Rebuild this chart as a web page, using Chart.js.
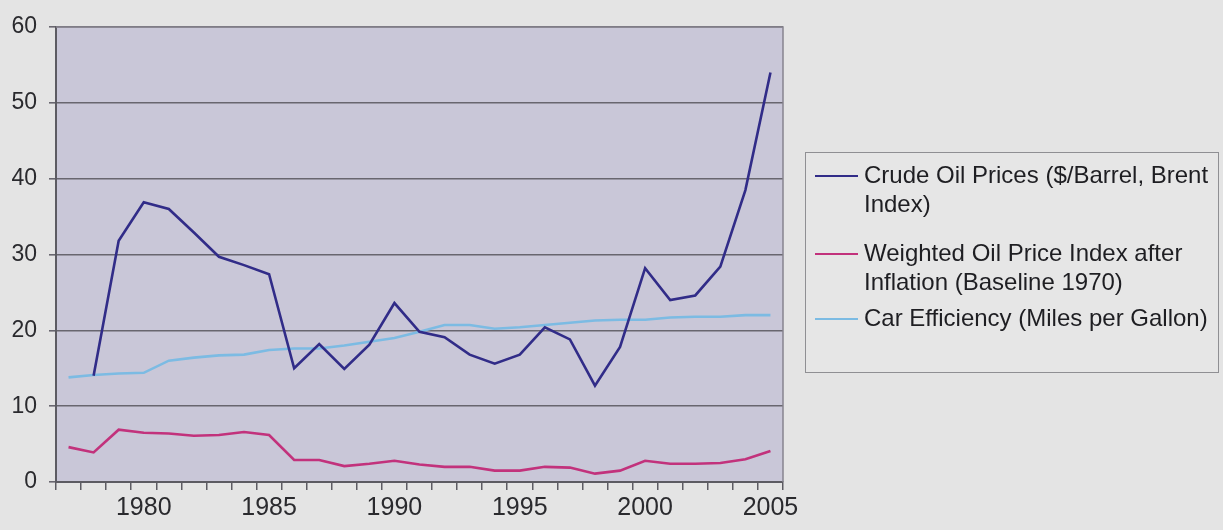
<!DOCTYPE html>
<html>
<head>
<meta charset="utf-8">
<title>Oil prices and car efficiency</title>
<script src="https://cdn.jsdelivr.net/npm/chart.js@4.4.0/dist/chart.umd.min.js"></script>
<style>
  html, body { margin: 0; padding: 0; background: #e4e4e4; }
  #wrap { position: relative; width: 1223px; height: 530px; }
</style>
</head>
<body>
<div id="wrap"><canvas id="oilChart" width="1223" height="530"></canvas></div>
<script>
// ---------------------------------------------------
// data
var years = ['1977','1978','1979','1980','1981','1982','1983','1984','1985','1986',
             '1987','1988','1989','1990','1991','1992','1993','1994','1995','1996',
             '1997','1998','1999','2000','2001','2002','2003','2004','2005'];

var crudeOil = [null, 14.0, 31.8, 36.9, 36.0, 32.9, 29.7, 28.6, 27.4, 15.0,
                18.2, 14.9, 18.1, 23.6, 19.8, 19.1, 16.8, 15.6, 16.8, 20.4,
                18.8, 12.7, 17.8, 28.2, 24.0, 24.6, 28.4, 38.5, 54.0];

var weightedIndex = [4.6, 3.9, 6.9, 6.5, 6.4, 6.1, 6.2, 6.6, 6.2, 2.9,
                     2.9, 2.1, 2.4, 2.8, 2.3, 2.0, 2.0, 1.5, 1.5, 2.0,
                     1.9, 1.1, 1.5, 2.8, 2.4, 2.4, 2.5, 3.0, 4.1];

var carEfficiency = [13.8, 14.1, 14.3, 14.4, 16.0, 16.4, 16.7, 16.8, 17.4, 17.6,
                     17.6, 18.0, 18.5, 19.0, 19.8, 20.7, 20.7, 20.2, 20.4, 20.7,
                     21.0, 21.3, 21.4, 21.4, 21.7, 21.8, 21.8, 22.0, 22.0];

var yTicks = [0, 10, 20, 30, 40, 50, 60];

// legend text, one entry per series, split into its lines
var seriesLabels = [
  ['Crude Oil Prices ($/Barrel, Brent', 'Index)'],
  ['Weighted Oil Price Index after', 'Inflation (Baseline 1970)'],
  ['Car Efficiency (Miles per Gallon)']
];

var FONT = "'Liberation Sans', Arial, sans-serif";

// plot background, frame and the boxed legend on the right
var decorations = {
  id: 'decorations',
  beforeDraw(chart) {
    let ctx = chart.ctx;
    let a = chart.chartArea;
    ctx.save();
    ctx.fillStyle = '#c9c7d8';
    ctx.fillRect(a.left, a.top, a.right - a.left, a.bottom - a.top);
    ctx.restore();
  },
  afterDraw(chart) {
    let ctx = chart.ctx;
    let a = chart.chartArea;
    ctx.save();
    // top + right frame
    ctx.strokeStyle = '#86848f';
    ctx.lineWidth = 1.5;
    ctx.beginPath();
    ctx.moveTo(a.left, a.top);
    ctx.lineTo(a.right, a.top);
    ctx.lineTo(a.right, a.bottom);
    ctx.stroke();

    // legend box
    let bx = 805, by = 152, bw = 413, bh = 220;
    ctx.fillStyle = '#e6e6e6';
    ctx.fillRect(bx, by, bw, bh);
    ctx.strokeStyle = '#8f8f93';
    ctx.lineWidth = 1;
    ctx.strokeRect(bx + 0.5, by + 0.5, bw, bh);

    // baselines of every text line, per item
    let baselines = [[183, 212], [261, 290], [326]];
    ctx.font = '24px ' + FONT;
    ctx.textBaseline = 'alphabetic';
    ctx.textAlign = 'left';
    chart.data.datasets.forEach(function (ds, i) {
      let lines = seriesLabels[i];
      let yLine = baselines[i][0] - 7;
      ctx.strokeStyle = ds.borderColor;
      ctx.lineWidth = 2;
      ctx.beginPath();
      ctx.moveTo(815, yLine);
      ctx.lineTo(858, yLine);
      ctx.stroke();
      ctx.fillStyle = '#1e1e22';
      lines.forEach(function (txt, k) {
        ctx.fillText(txt, 864, baselines[i][k]);
      });
    });
    ctx.restore();
  }
};

var ctxOil = document.getElementById('oilChart');
new Chart(ctxOil, {
  type: 'line',
  data: {
    labels: years,
    datasets: [
      {
        label: seriesLabels[0].join(' '),
        data: crudeOil,
        borderColor: '#312c88',
        borderWidth: 2.6
      },
      {
        label: seriesLabels[1].join(' '),
        data: weightedIndex,
        borderColor: '#c2327c',
        borderWidth: 2.6
      },
      {
        label: seriesLabels[2].join(' '),
        data: carEfficiency,
        borderColor: '#7cbbe3',
        borderWidth: 2.6
      }
    ]
  },
  options: {
    responsive: false,
    animation: false,
    layout: { padding: { top: 27, right: 440, left: 0, bottom: 0 } },
    elements: {
      point: { radius: 0, hoverRadius: 0 },
      line: { tension: 0, fill: false }
    },
    plugins: {
      legend: { display: false },
      tooltip: { enabled: false }
    },
    scales: {
      x: {
        offset: true,
        grid: {
          offset: true,
          drawOnChartArea: false,
          drawTicks: true,
          tickLength: 8,
          color: '#5c5b62',
          lineWidth: 1.5
        },
        border: { display: true, color: '#5c5b62', width: 2 },
        ticks: {
          autoSkip: false,
          maxRotation: 0,
          padding: 3,
          color: '#2a2a2e',
          font: { family: FONT, size: 25 },
          callback: function (value, index) {
            let y = years[index];
            return (+y % 5 === 0) ? y : '';
          }
        },
        afterFit: function (scale) { scale.height = 48; }
      },
      y: {
        min: 0,
        max: 60,
        afterBuildTicks: function (scale) {
          scale.ticks = yTicks.map(function (v) { return { value: v }; });
        },
        grid: {
          color: '#68666f',
          lineWidth: 1.6,
          tickLength: 7,
          drawTicks: true
        },
        border: { display: true, color: '#5c5b62', width: 2 },
        ticks: {
          padding: 12,
          color: '#2a2a2e',
          font: { family: FONT, size: 23 }
        },
        afterFit: function (scale) { scale.width = 56; }
      }
    }
  },
  plugins: [decorations]
});
</script>
</body>
</html>
